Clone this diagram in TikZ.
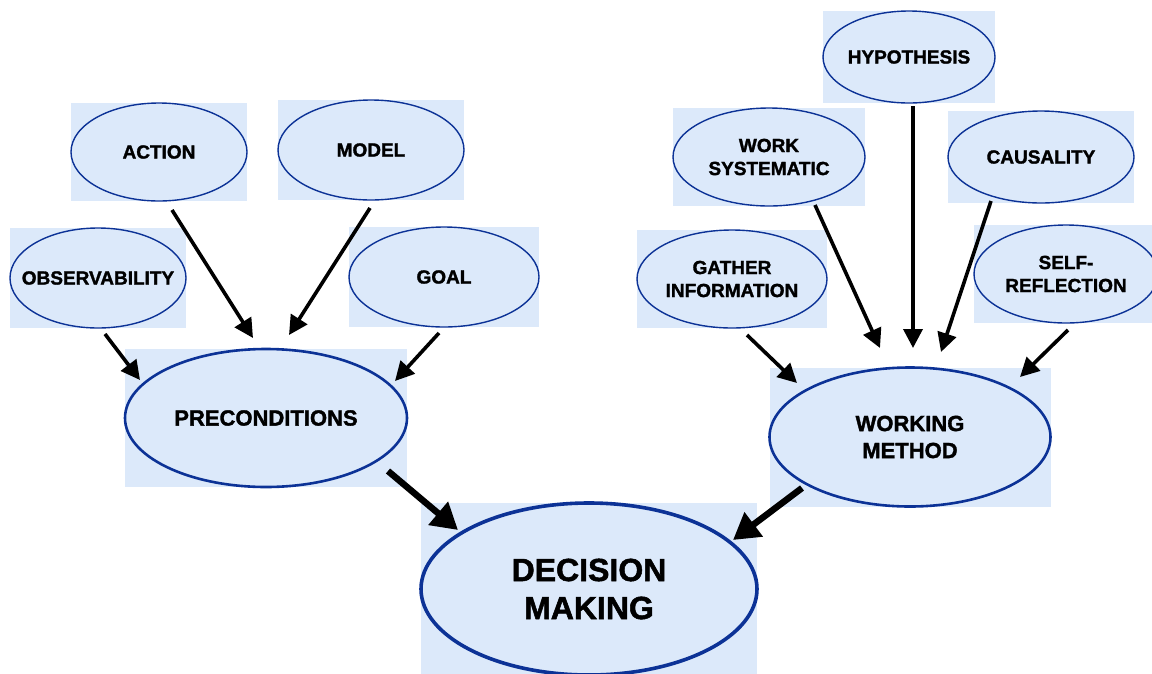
\documentclass[tikz,border=0pt]{standalone}
\usepackage{fontspec}
\setmainfont{Liberation Sans}[BoldFeatures={FakeBold=1.6}]
\usetikzlibrary{arrows.meta,backgrounds,calc,shapes.geometric}
\definecolor{paper}{RGB}{220,233,250}
\definecolor{rim}{RGB}{12,50,150}

\begin{document}
\begin{tikzpicture}[x=1pt,y=-1pt,
	idea/.style={ellipse,draw=rim,line width=1.4pt,inner sep=-40pt,outer sep=0pt,align=center,font=\bfseries\fontsize{19}{23}\selectfont},
	bigidea/.style={idea,line width=2.6pt,font=\bfseries\fontsize{22}{27}\selectfont},
	arr/.style={line width=3.6pt,-{Triangle[length=19pt,width=19pt]}},
	bigarr/.style={line width=6.5pt,-{Triangle[length=26pt,width=29pt]}}]
	\useasboundingbox (0,0) rectangle (1152,673);
	% left branch
	\node[idea,minimum width=176pt,minimum height=100pt] (obs) at (98,278) {OBSERVABILITY};
	\node[idea,minimum width=176pt,minimum height=98pt] (act) at (159,152) {ACTION};
	\node[idea,minimum width=186pt,minimum height=100pt] (mod) at (371,150) {MODEL};
	\node[idea,minimum width=190pt,minimum height=100pt] (goal) at (444,277) {GOAL};
	\node[bigidea,minimum width=282pt,minimum height=138pt] (pre) at (266,418) {PRECONDITIONS};
	% right branch
	\node[idea,minimum width=172pt,minimum height=92pt] (hyp) at (909,57) {HYPOTHESIS};
	\node[idea,minimum width=192pt,minimum height=98pt] (sys) at (769,157) {WORK\\SYSTEMATIC};
	\node[idea,minimum width=186pt,minimum height=92pt] (cau) at (1041,157) {CAUSALITY};
	\node[idea,minimum width=190pt,minimum height=98pt] (gat) at (732,279) {GATHER\\INFORMATION};
	\node[idea,minimum width=184pt,minimum height=98pt] (ref) at (1066,274) {SELF-\\REFLECTION};
	\node[bigidea,minimum width=281pt,minimum height=139pt] (wm) at (910,437) {WORKING\\METHOD};
	% goal
	\node[idea,line width=3.6pt,minimum width=336pt,minimum height=172pt,font=\bfseries\fontsize{32}{38}\selectfont] (dec) at (589,589) {DECISION\\MAKING};
	\begin{scope}[on background layer]
		\foreach \n in {obs,act,mod,goal,pre,hyp,sys,cau,gat,ref,wm,dec}
		\fill[paper] (\n.west |- \n.north) rectangle (\n.east |- \n.south);
	\end{scope}
	% arrows
	\draw[arr] ($(obs)+(7,56)$) -- ($(pre)+(-126,-38)$);
	\draw[arr] ($(act)+(13,58)$) -- ($(pre)+(-13,-80)$);
	\draw[arr] ($(mod)+(-1,58)$) -- ($(pre)+(23,-83)$);
	\draw[arr] ($(goal)+(-5,56)$) -- ($(pre)+(129,-37)$);
	\draw[arr] ($(gat)+(15,56)$) -- ($(wm)+(-113,-54)$);
	\draw[arr] ($(sys)+(46,48)$) -- ($(wm)+(-30,-89)$);
	\draw[arr] ($(hyp)+(4,49)$) -- ($(wm)+(3,-89)$);
	\draw[arr] ($(cau)+(-50,44)$) -- ($(wm)+(31,-85)$);
	\draw[arr] ($(ref)+(2,56)$) -- ($(wm)+(110,-60)$);
	\draw[bigarr] ($(pre)+(122,53)$) -- ($(dec)+(-131,-59)$);
	\draw[bigarr] ($(wm)+(-108,51)$) -- ($(dec)+(144,-49)$);
\end{tikzpicture}
\end{document}
